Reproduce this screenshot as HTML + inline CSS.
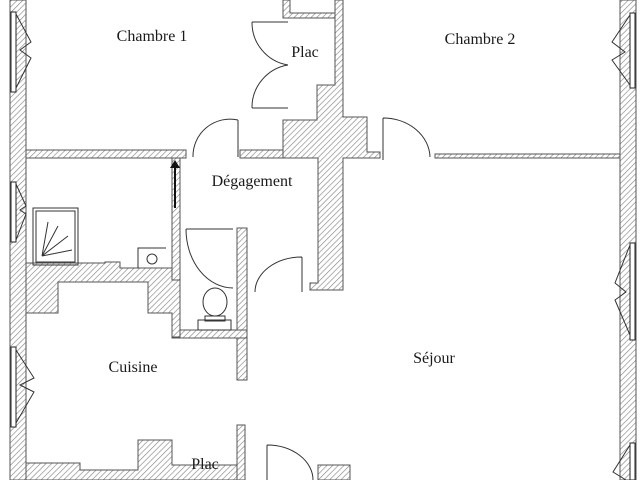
<!DOCTYPE html>
<html><head><meta charset="utf-8"><style>
html,body{margin:0;padding:0;background:#fff;}
svg{display:block}
text{font-family:"Liberation Serif",serif;font-size:16px;fill:#1a1a1a}
</style></head><body>
<svg width="640" height="480" viewBox="0 0 640 480" xmlns="http://www.w3.org/2000/svg">
<defs>
<pattern id="h" width="4" height="4" patternUnits="userSpaceOnUse" patternTransform="rotate(45)">
<rect width="4" height="4" fill="#fff"/><line x1="0" y1="0" x2="0" y2="4" stroke="#888" stroke-width="1.3"/>
</pattern>
</defs>
<g fill="url(#h)" stroke="#555" stroke-width="1">
<rect x="10" y="0" width="16" height="480"/>
<rect x="620" y="0" width="16" height="480"/>
<rect x="26" y="150" width="160" height="8"/>
<rect x="240" y="150" width="45" height="8"/>
<polygon points="283,120 317,120 317,85 335,85 335,0 343,0 343,117 367,117 367,152 380,152 380,158 343,158 343,290 310,290 310,283 318,283 318,158 283,158"/>
<polygon points="283,0 290,0 290,13 335,13 335,18 283,18"/>
<rect x="435" y="154" width="185" height="4"/>
<rect x="172" y="158" width="8" height="180"/>
<rect x="237" y="228" width="10" height="152"/>
<rect x="172" y="330" width="75" height="8"/>
<polygon points="26,263 105,263 105,262 120,262 120,268 172,268 172,280 180,280 180,337 172,337 172,313 148,313 148,282 58,282 58,313 26,313"/>
<polygon points="26,463 80,463 80,470 138,470 138,440 172,440 172,465 245,465 245,480 26,480"/>
<rect x="237" y="425" width="8" height="55"/>
<rect x="318" y="465" width="32" height="15"/>
</g>
<g fill="#fff" stroke="#222" stroke-width="1">
<rect x="11" y="12" width="5" height="80"/><rect x="11" y="182" width="5" height="60"/><rect x="11" y="347" width="5" height="80"/>
<rect x="630" y="13" width="5" height="75"/><rect x="630" y="243" width="5" height="97"/><rect x="630" y="443" width="5" height="37"/>
</g>
<g fill="none" stroke="#333" stroke-width="1">
<path d="M16,14 L31,42 L20,50 L31,58 L16,88"/><path d="M16,184 L26,206 L20,210 L26,214 L16,240"/><path d="M16,350 L34,378 L20,385 L34,392 L16,423"/>
<path d="M630,15 L612,42 L625,52 L612,60 L630,85"/><path d="M630,245 L615,283 L626,292 L615,300 L630,335"/><path d="M630,445 L613,472 L626,480"/>
<path d="M238,120 L238,157 M238,120 A37,37 0 0 0 193,157"/>
<path d="M252,22 L288,22 M252,22 A43,43 0 0 0 288,65 M252,108 L288,108 M252,108 A43,43 0 0 1 288,65"/>
<path d="M383,118 L383,160 M383,118 A47,40 0 0 1 430,157"/>
<path d="M302,257 L302,292 M302,257 A47,35 0 0 0 255,292"/>
<path d="M186,229 L233,229 M186,229 A47,59 0 0 0 233,288"/>
<path d="M267,445 L267,480 M267,445 A46,35 0 0 1 313,480"/>
<rect x="33" y="208" width="45" height="57"/><rect x="36" y="211" width="39" height="51"/>
<path d="M42,256 L48,222 M42,256 L58,226 M42,256 L68,236 M42,256 L72,250"/>
<path d="M138,268 L138,248 L166,248"/><circle cx="152" cy="259" r="5"/>
<ellipse cx="215" cy="302" rx="12" ry="14"/><rect x="198" y="320" width="33" height="10"/><rect x="205" y="316" width="20" height="5"/>
</g>
<line x1="175" y1="208" x2="175" y2="168" stroke="#111" stroke-width="2"/>
<polygon points="170,168 180,168 175,160" fill="#111"/>
<text x="152" y="41" text-anchor="middle">Chambre 1</text>
<text x="305" y="57" text-anchor="middle">Plac</text>
<text x="480" y="44" text-anchor="middle">Chambre 2</text>
<text x="252" y="186" text-anchor="middle">Dégagement</text>
<text x="133" y="372" text-anchor="middle">Cuisine</text>
<text x="434" y="363" text-anchor="middle">Séjour</text>
<text x="205" y="469" text-anchor="middle">Plac</text>
</svg>
</body></html>
